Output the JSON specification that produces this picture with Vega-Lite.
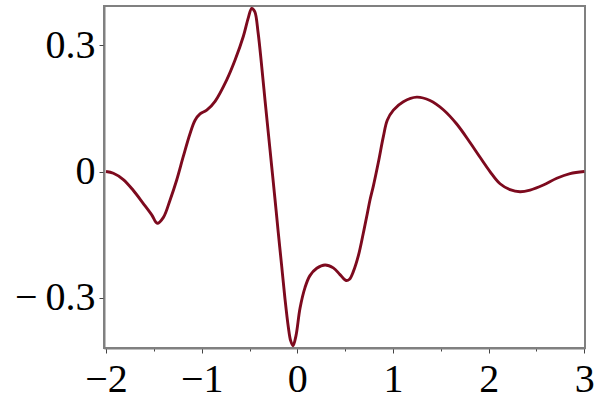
{
  "$schema": "https://vega.github.io/schema/vega-lite/v6.json",
  "width": 481,
  "height": 342,
  "autosize": {"type": "none"},
  "padding": {"left": 104, "top": 6, "right": 15, "bottom": 64},
  "background": "white",
  "config": {
    "view": {"stroke": "#808080", "strokeWidth": 2},
    "axis": {
      "domainColor": "#808080",
      "domainWidth": 2,
      "tickColor": "#444444",
      "tickWidth": 1,
      "grid": false,
      "labelFont": "Liberation Serif",
      "labelFontSize": 40,
      "labelColor": "black",
      "title": null
    }
  },
  "data": {
    "values": [
      {"x": -2.0, "y": 0.0},
      {"x": -1.923, "y": -0.004},
      {"x": -1.819, "y": -0.019},
      {"x": -1.714, "y": -0.045},
      {"x": -1.61, "y": -0.076},
      {"x": -1.522, "y": -0.103},
      {"x": -1.464, "y": -0.123},
      {"x": -1.4, "y": -0.109},
      {"x": -1.331, "y": -0.068},
      {"x": -1.261, "y": -0.02},
      {"x": -1.192, "y": 0.036},
      {"x": -1.122, "y": 0.09},
      {"x": -1.069, "y": 0.122},
      {"x": -1.017, "y": 0.137},
      {"x": -0.947, "y": 0.146},
      {"x": -0.86, "y": 0.167},
      {"x": -0.738, "y": 0.218},
      {"x": -0.651, "y": 0.265},
      {"x": -0.565, "y": 0.321},
      {"x": -0.512, "y": 0.366},
      {"x": -0.477, "y": 0.388},
      {"x": -0.445, "y": 0.38},
      {"x": -0.41, "y": 0.33},
      {"x": -0.372, "y": 0.249},
      {"x": -0.338, "y": 0.17},
      {"x": -0.303, "y": 0.091},
      {"x": -0.268, "y": 0.012},
      {"x": -0.233, "y": -0.067},
      {"x": -0.199, "y": -0.146},
      {"x": -0.163, "y": -0.226},
      {"x": -0.129, "y": -0.303},
      {"x": -0.094, "y": -0.37},
      {"x": -0.07, "y": -0.402},
      {"x": -0.045, "y": -0.414},
      {"x": -0.014, "y": -0.39},
      {"x": 0.028, "y": -0.325},
      {"x": 0.08, "y": -0.276},
      {"x": 0.13, "y": -0.248},
      {"x": 0.203, "y": -0.23},
      {"x": 0.29, "y": -0.222},
      {"x": 0.376, "y": -0.229},
      {"x": 0.446, "y": -0.245},
      {"x": 0.51, "y": -0.259},
      {"x": 0.545, "y": -0.256},
      {"x": 0.585, "y": -0.238},
      {"x": 0.638, "y": -0.2},
      {"x": 0.69, "y": -0.146},
      {"x": 0.732, "y": -0.099},
      {"x": 0.76, "y": -0.067},
      {"x": 0.795, "y": -0.034},
      {"x": 0.847, "y": 0.022},
      {"x": 0.899, "y": 0.083},
      {"x": 0.94, "y": 0.122},
      {"x": 1.004, "y": 0.146},
      {"x": 1.108, "y": 0.166},
      {"x": 1.248, "y": 0.177},
      {"x": 1.387, "y": 0.169},
      {"x": 1.526, "y": 0.147},
      {"x": 1.666, "y": 0.113},
      {"x": 1.805, "y": 0.069},
      {"x": 1.91, "y": 0.034},
      {"x": 2.014, "y": 0.0},
      {"x": 2.119, "y": -0.029},
      {"x": 2.223, "y": -0.043},
      {"x": 2.328, "y": -0.048},
      {"x": 2.433, "y": -0.044},
      {"x": 2.572, "y": -0.032},
      {"x": 2.712, "y": -0.016},
      {"x": 2.851, "y": -0.005},
      {"x": 3.0, "y": 0.0}
    ]
  },
  "mark": {"type": "line", "color": "#7d0a1e", "strokeWidth": 2.9, "interpolate": "catmull-rom", "clip": true},
  "encoding": {
    "x": {
      "field": "x",
      "type": "quantitative",
      "scale": {"domain": [-2.021, 3.007], "nice": false, "zero": false},
      "axis": {
        "values": [-2, -1.5, -1, -0.5, 0, 0.5, 1, 1.5, 2, 2.5, 3],
        "labelExpr": "datum.value % 1 === 0 ? (datum.value < 0 ? '−' + abs(datum.value) : '' + datum.value) : ''",
        "tickSize": {"condition": {"test": "datum.value % 1 === 0", "value": 5}, "value": 3},
        "labelPadding": 6,
        "labelFlush": false,
        "labelOverlap": false
      }
    },
    "y": {
      "field": "y",
      "type": "quantitative",
      "scale": {"domain": [-0.4195, 0.3936], "nice": false, "zero": false},
      "axis": {
        "values": [-0.3, 0, 0.3],
        "labelExpr": "datum.value < 0 ? '−\u2009' + format(-datum.value, '.1f') : (datum.value == 0 ? '0' : format(datum.value, '.1f'))",
        "tickSize": 5,
        "labelPadding": 4,
        "labelFlush": false,
        "labelOverlap": false
      }
    }
  }
}
